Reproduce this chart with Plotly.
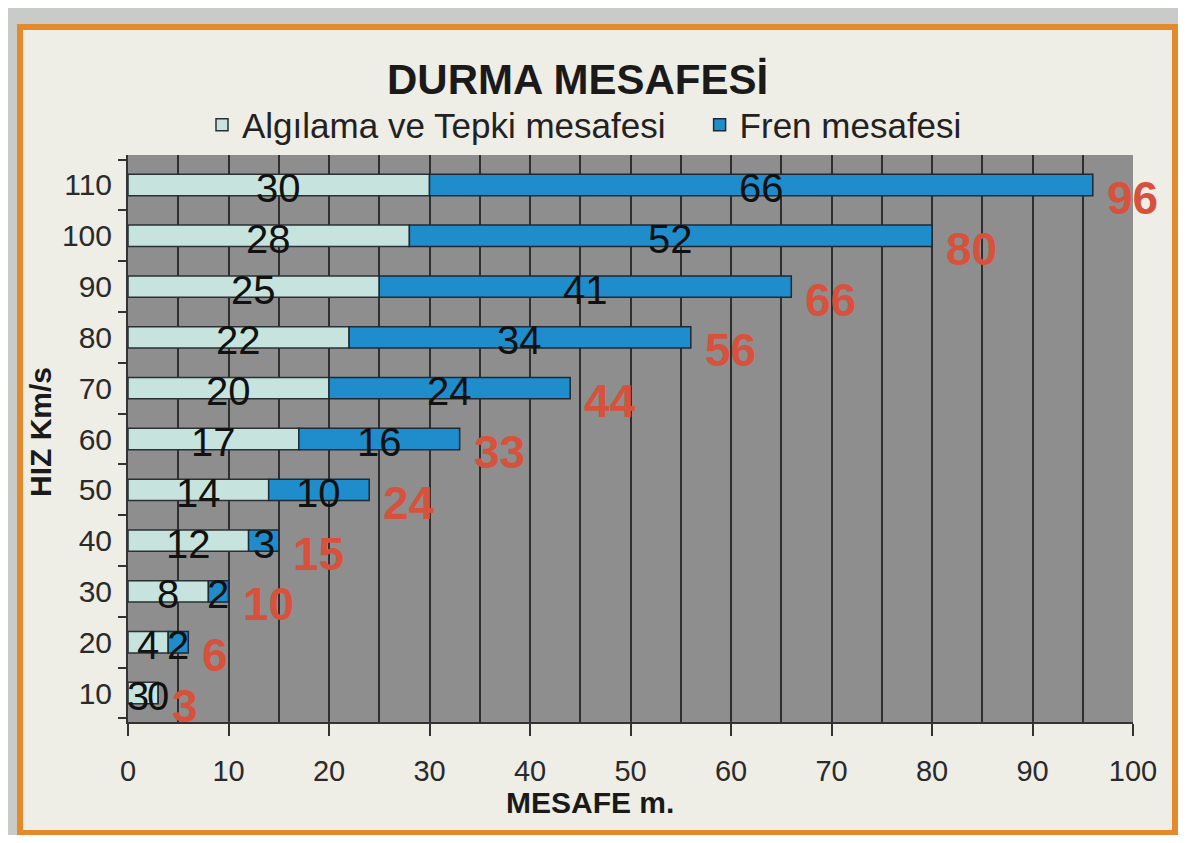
import plotly.graph_objects as go

speeds = ["10", "20", "30", "40", "50", "60", "70", "80", "90", "100", "110"]
reaction = [3, 4, 8, 12, 14, 17, 20, 22, 25, 28, 30]
brake = [0, 2, 2, 3, 10, 16, 24, 34, 41, 52, 66]
totals = [3, 6, 10, 15, 24, 33, 44, 56, 66, 80, 96]
x_ticks = [0, 10, 20, 30, 40, 50, 60, 70, 80, 90, 100]

# page body has an 8px margin; figure is placed at (8, 8) in the window
OFF = 8
W, H = 1186 - 2 * OFF, 843 - 2 * OFF
L, R, T, B = 128, 1133, 155, 722   # plot area in window pixels

def px(xp):
    return (xp - L) / (R - L)

def py(yp):
    return (B - yp) / (B - T)

LIGHT = "#c6e4dd"
BLUE = "#1f8ccb"
GRID = "#2f2f2f"
FONT = "Liberation Sans, Arial, sans-serif"

fig = go.Figure()
fig.add_trace(go.Bar(
    y=speeds, x=reaction, orientation="h", name="Algılama ve Tepki mesafesi\u00a0\u00a0\u00a0",
    marker=dict(color=LIGHT, line=dict(color="#2a2f33", width=1.5)), width=0.42,
))
fig.add_trace(go.Bar(
    y=speeds, x=brake, base=reaction, orientation="h", name="Fren mesafesi",
    marker=dict(color=BLUE, line=dict(color="#1d2a35", width=1.5)), width=0.42,
))

ann = []
for i, (r, b, t) in enumerate(zip(reaction, brake, totals)):
    ann.append(dict(x=r / 2, y=i, text=str(r), showarrow=False, yshift=-3,
                    xanchor="center", yanchor="middle", xshift=(-5 if b == 0 else 0),
                    font=dict(family=FONT, size=40, color="#111")))
    ann.append(dict(x=r + b / 2, y=i, text=str(b), showarrow=False, yshift=-3,
                    xanchor="center", yanchor="middle",
                    font=dict(family=FONT, size=40, color="#111")))
    ann.append(dict(x=t, y=i, text="<b>" + str(t) + "</b>", showarrow=False,
                    xanchor="left", yanchor="middle", xshift=12, yshift=-13,
                    font=dict(family=FONT, size=46, color="#d6523c")))

def pann(x, y, text, size, **kw):
    d = dict(xref="paper", yref="paper", x=px(x), y=py(y), text=text, showarrow=False,
             xanchor="center", yanchor="middle", font=dict(family=FONT, size=size, color="#1a1a1a"))
    d.update(kw)
    return d

ann.append(pann(577, 80, "<b>DURMA MESAFESİ</b>", 42))
ann.append(pann(590, 802, "<b>MESAFE m.</b>", 30))
ann.append(pann(40, 432, "<b>HIZ Km/s</b>", 30, textangle=-90))

shapes = [
    dict(type="rect", xref="paper", yref="paper", x0=px(20), x1=px(1175), y0=py(833), y1=py(27),
         fillcolor="#eeede6", line=dict(color="#e38b2c", width=6), layer="below"),
    dict(type="rect", xref="paper", yref="paper", x0=0, x1=1, y0=0, y1=1,
         fillcolor="#8e8e8e", line=dict(width=0), layer="below"),
]

fig.update_layout(
    width=W, height=H,
    margin=dict(l=L - OFF, r=W - (R - OFF), t=T - OFF, b=H - (B - OFF)),
    paper_bgcolor="#c8cbc8", plot_bgcolor="#8e8e8e",
    barmode="overlay", showlegend=True,
    legend=dict(orientation="h", x=px(202), y=py(125), xanchor="left", yanchor="middle",
                font=dict(family=FONT, size=35, color="#222"), bgcolor="rgba(0,0,0,0)",
                itemwidth=30),
    annotations=ann, shapes=shapes,
    xaxis=dict(range=[0, 100], tickvals=x_ticks, ticks="outside", ticklen=12, tickwidth=1.5,
               tickcolor="#333", showgrid=True, gridcolor=GRID, gridwidth=1.5,
               minor=dict(dtick=5, showgrid=True, gridcolor=GRID, gridwidth=1.5),
               showline=True, linecolor="#333", linewidth=2, zeroline=False,
               ticklabelstandoff=10,
               tickfont=dict(family=FONT, size=29, color="#2a2a2a")),
    yaxis=dict(type="category", categoryorder="array", categoryarray=speeds,
               range=[-0.57, 10.59], ticks="outside", tickson="boundaries", ticklen=8,
               tickwidth=1.5, tickcolor="#333", showgrid=False, showline=True,
               linecolor="#333", linewidth=2, ticklabelstandoff=8,
               tickfont=dict(family=FONT, size=30, color="#2a2a2a")),
)

fig.write_html("out.html")
